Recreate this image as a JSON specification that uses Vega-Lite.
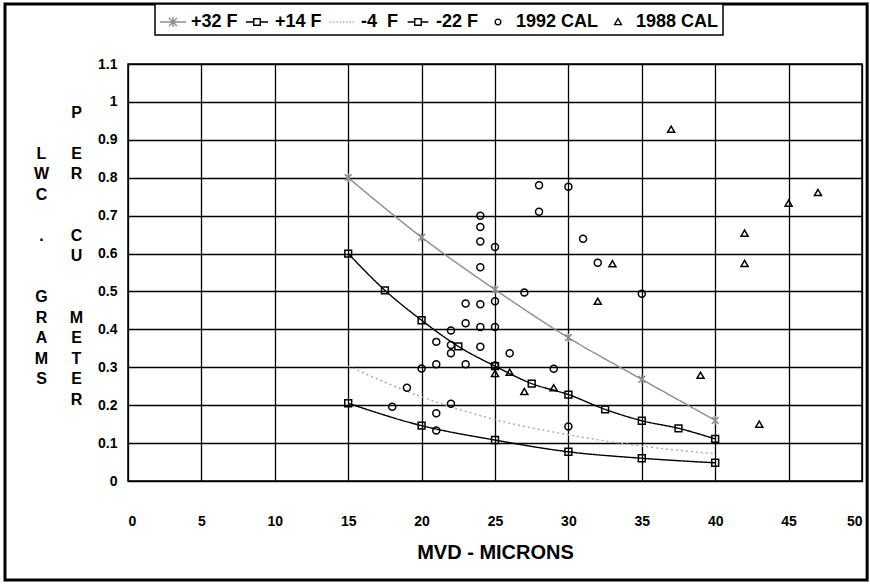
{
  "$schema": "https://vega.github.io/schema/vega-lite/v6.json",
  "width": 734,
  "height": 417,
  "autosize": "none",
  "padding": {"left": 128, "top": 64, "right": 8, "bottom": 103},
  "background": "white",
  "datasets": {
    "lwc": [
      {"series": "+32 F", "mvd": 15, "lwc": 0.80},
      {"series": "+32 F", "mvd": 20, "lwc": 0.643},
      {"series": "+32 F", "mvd": 25, "lwc": 0.505},
      {"series": "+32 F", "mvd": 30, "lwc": 0.378},
      {"series": "+32 F", "mvd": 35, "lwc": 0.268},
      {"series": "+32 F", "mvd": 40, "lwc": 0.16},
      {"series": "+14 F", "mvd": 15, "lwc": 0.60},
      {"series": "+14 F", "mvd": 17.5, "lwc": 0.503},
      {"series": "+14 F", "mvd": 20, "lwc": 0.424},
      {"series": "+14 F", "mvd": 22.5, "lwc": 0.355},
      {"series": "+14 F", "mvd": 25, "lwc": 0.303},
      {"series": "+14 F", "mvd": 27.5, "lwc": 0.257},
      {"series": "+14 F", "mvd": 30, "lwc": 0.228},
      {"series": "+14 F", "mvd": 32.5, "lwc": 0.189},
      {"series": "+14 F", "mvd": 35, "lwc": 0.159},
      {"series": "+14 F", "mvd": 37.5, "lwc": 0.139},
      {"series": "+14 F", "mvd": 40, "lwc": 0.111},
      {"series": "-4\u00a0 F", "mvd": 15, "lwc": 0.303},
      {"series": "-4\u00a0 F", "mvd": 20, "lwc": 0.222},
      {"series": "-4\u00a0 F", "mvd": 25, "lwc": 0.162},
      {"series": "-4\u00a0 F", "mvd": 30, "lwc": 0.122},
      {"series": "-4\u00a0 F", "mvd": 35, "lwc": 0.092},
      {"series": "-4\u00a0 F", "mvd": 40, "lwc": 0.072},
      {"series": "-22 F", "mvd": 15, "lwc": 0.205},
      {"series": "-22 F", "mvd": 20, "lwc": 0.146},
      {"series": "-22 F", "mvd": 25, "lwc": 0.108},
      {"series": "-22 F", "mvd": 30, "lwc": 0.077},
      {"series": "-22 F", "mvd": 35, "lwc": 0.06},
      {"series": "-22 F", "mvd": 40, "lwc": 0.048},
      {"series": "1992 CAL", "mvd": 28, "lwc": 0.78},
      {"series": "1992 CAL", "mvd": 30, "lwc": 0.776},
      {"series": "1992 CAL", "mvd": 24, "lwc": 0.70},
      {"series": "1992 CAL", "mvd": 28, "lwc": 0.71},
      {"series": "1992 CAL", "mvd": 24, "lwc": 0.67},
      {"series": "1992 CAL", "mvd": 24, "lwc": 0.632},
      {"series": "1992 CAL", "mvd": 25, "lwc": 0.617},
      {"series": "1992 CAL", "mvd": 31, "lwc": 0.639},
      {"series": "1992 CAL", "mvd": 24, "lwc": 0.564},
      {"series": "1992 CAL", "mvd": 32, "lwc": 0.576},
      {"series": "1992 CAL", "mvd": 27, "lwc": 0.497},
      {"series": "1992 CAL", "mvd": 35, "lwc": 0.494},
      {"series": "1992 CAL", "mvd": 23, "lwc": 0.468},
      {"series": "1992 CAL", "mvd": 24, "lwc": 0.466},
      {"series": "1992 CAL", "mvd": 25, "lwc": 0.474},
      {"series": "1992 CAL", "mvd": 23, "lwc": 0.416},
      {"series": "1992 CAL", "mvd": 24, "lwc": 0.406},
      {"series": "1992 CAL", "mvd": 25, "lwc": 0.406},
      {"series": "1992 CAL", "mvd": 22, "lwc": 0.397},
      {"series": "1992 CAL", "mvd": 21, "lwc": 0.367},
      {"series": "1992 CAL", "mvd": 22, "lwc": 0.359},
      {"series": "1992 CAL", "mvd": 22, "lwc": 0.337},
      {"series": "1992 CAL", "mvd": 24, "lwc": 0.354},
      {"series": "1992 CAL", "mvd": 26, "lwc": 0.337},
      {"series": "1992 CAL", "mvd": 20, "lwc": 0.297},
      {"series": "1992 CAL", "mvd": 21, "lwc": 0.308},
      {"series": "1992 CAL", "mvd": 23, "lwc": 0.308},
      {"series": "1992 CAL", "mvd": 25, "lwc": 0.305},
      {"series": "1992 CAL", "mvd": 29, "lwc": 0.296},
      {"series": "1992 CAL", "mvd": 19, "lwc": 0.246},
      {"series": "1992 CAL", "mvd": 18, "lwc": 0.196},
      {"series": "1992 CAL", "mvd": 22, "lwc": 0.204},
      {"series": "1992 CAL", "mvd": 21, "lwc": 0.179},
      {"series": "1992 CAL", "mvd": 21, "lwc": 0.133},
      {"series": "1992 CAL", "mvd": 30, "lwc": 0.144},
      {"series": "1988 CAL", "mvd": 37, "lwc": 0.928},
      {"series": "1988 CAL", "mvd": 47, "lwc": 0.761},
      {"series": "1988 CAL", "mvd": 45, "lwc": 0.733},
      {"series": "1988 CAL", "mvd": 42, "lwc": 0.654},
      {"series": "1988 CAL", "mvd": 33, "lwc": 0.573},
      {"series": "1988 CAL", "mvd": 42, "lwc": 0.574},
      {"series": "1988 CAL", "mvd": 32, "lwc": 0.474},
      {"series": "1988 CAL", "mvd": 26, "lwc": 0.287},
      {"series": "1988 CAL", "mvd": 25, "lwc": 0.284},
      {"series": "1988 CAL", "mvd": 27, "lwc": 0.236},
      {"series": "1988 CAL", "mvd": 29, "lwc": 0.246},
      {"series": "1988 CAL", "mvd": 39, "lwc": 0.279},
      {"series": "1988 CAL", "mvd": 43, "lwc": 0.15}
    ]
  },
  "data": {"name": "lwc"},
  "config": {
    "font": "Liberation Sans",
    "view": {"stroke": "black", "strokeWidth": 1.5},
    "axis": {
      "gridColor": "black",
      "gridOpacity": 1,
      "gridWidth": 1.3,
      "ticks": false,
      "domain": false,
      "labelFont": "Liberation Sans Narrow, Liberation Sans",
      "labelFontWeight": "bold",
      "labelFontSize": 14,
      "labelColor": "black",
      "titleColor": "black",
      "titleFont": "Liberation Sans",
      "titleFontWeight": "bold"
    },
    "legend": {
      "orient": "none",
      "legendX": 27,
      "legendY": -60,
      "direction": "horizontal",
      "columns": 6,
      "symbolSize": 676,
      "symbolStrokeWidth": 1.4,
      "labelFont": "Liberation Sans",
      "labelFontWeight": "bold",
      "labelFontSize": 18,
      "labelColor": "black",
      "labelOffset": 4,
      "columnPadding": 5,
      "padding": 4,
      "strokeColor": "black",
      "strokeWidth": 1.5,
      "fillColor": "white"
    }
  },
  "layer": [
    {
      "transform": [{"filter": "indexof(['+32 F', '+14 F', '-4\u00a0 F', '-22 F'], datum.series) >= 0"}],
      "mark": {"type": "line", "interpolate": "monotone", "strokeWidth": 1.4},
      "encoding": {
        "x": {
          "field": "mvd", "type": "quantitative",
          "scale": {"domain": [0, 50], "nice": false},
          "axis": {
            "grid": true,
            "values": [0, 5, 10, 15, 20, 25, 30, 35, 40, 45, 50],
            "labelPadding": 33,
            "title": "MVD - MICRONS",
            "titleFontSize": 20,
            "titleBaseline": "middle",
            "titleY": 71
          }
        },
        "y": {
          "field": "lwc", "type": "quantitative",
          "scale": {"domain": [0, 1.1], "nice": false, "zero": false},
          "axis": {
            "grid": true,
            "values": [0, 0.1, 0.2, 0.3, 0.4, 0.5, 0.6, 0.7, 0.8, 0.9, 1, 1.1],
            "format": "~g",
            "labelPadding": 11,
            "title": ["L", "W", "C", "\u2800", ".", "\u2800", "\u2800", "G", "R", "A", "M", "S"],
            "titleAngle": 0,
            "titleAlign": "center",
            "titleBaseline": "top",
            "titleX": -87,
            "titleY": 81,
            "titleFontSize": 16,
            "titleLineHeight": 20.5
          }
        },
        "color": {
          "field": "series", "type": "nominal", "legend": null,
          "scale": {"domain": ["+32 F", "+14 F", "-4\u00a0 F", "-22 F"], "range": ["#8c8c8c", "black", "#a8a8a8", "black"]}
        },
        "strokeDash": {
          "field": "series", "type": "nominal", "legend": null,
          "scale": {"domain": ["+32 F", "+14 F", "-4\u00a0 F", "-22 F"], "range": [[1, 0], [1, 0], [2, 3], [1, 0]]}
        }
      }
    },
    {
      "transform": [{"filter": "datum.series !== '-4\u00a0 F'"}],
      "mark": {"type": "point", "filled": false, "strokeWidth": 1.5, "opacity": 1},
      "encoding": {
        "x": {"field": "mvd", "type": "quantitative"},
        "y": {"field": "lwc", "type": "quantitative", "axis": null},
        "color": {
          "field": "series", "type": "nominal", "legend": null,
          "scale": {"domain": ["+32 F", "+14 F", "-22 F", "1992 CAL", "1988 CAL"], "range": ["#8c8c8c", "black", "black", "black", "black"]}
        },
        "shape": {
          "field": "series", "type": "nominal", "legend": null,
          "scale": {
            "domain": ["+32 F", "+14 F", "-22 F", "1992 CAL", "1988 CAL"],
            "range": ["M-1,-1L1,1M-1,1L1,-1M0,-1.3V1.3", "square", "square", "circle", "triangle-up"]
          }
        },
        "size": {
          "field": "series", "type": "nominal", "legend": null,
          "scale": {"domain": ["+32 F", "+14 F", "-22 F", "1992 CAL", "1988 CAL"], "range": [45, 50, 50, 52, 55]}
        }
      }
    },
    {
      "mark": {"type": "point", "filled": false, "opacity": 0},
      "encoding": {
        "x": {"field": "mvd", "type": "quantitative"},
        "y": {
          "field": "lwc", "type": "quantitative",
          "axis": {
            "orient": "left",
            "grid": false,
            "labels": false,
            "title": ["P", "\u2800", "E", "R", "\u2800", "\u2800", "C", "U", "\u2800", "\u2800", "M", "E", "T", "E", "R"],
            "titleAngle": 0,
            "titleAlign": "center",
            "titleBaseline": "top",
            "titleX": -52,
            "titleY": 40,
            "titleFontSize": 16,
            "titleLineHeight": 20.5
          }
        },
        "color": {
          "field": "series", "type": "nominal",
          "scale": {
            "domain": ["+32 F", "+14 F", "-4\u00a0 F", "-22 F", "1992 CAL", "1988 CAL"],
            "range": ["#8c8c8c", "black", "#a8a8a8", "black", "black", "black"]
          },
          "legend": {"title": null}
        },
        "shape": {
          "field": "series", "type": "nominal",
          "scale": {
            "domain": ["+32 F", "+14 F", "-4\u00a0 F", "-22 F", "1992 CAL", "1988 CAL"],
            "range": [
              "M-1,0H1M-0.3,-0.3L0.3,0.3M-0.3,0.3L0.3,-0.3M0,-0.38V0.38",
              "M-0.85,0H-0.25M0.25,0H0.85M-0.25,-0.25H0.25V0.25H-0.25Z",
              "M-1,0H-0.9M-0.75,0H-0.65M-0.5,0H-0.4M-0.25,0H-0.15M0,0H0.1M0.25,0H0.35M0.5,0H0.6M0.75,0H0.85",
              "M-0.8,0H-0.25M0.25,0H0.8M-0.25,-0.25H0.25V0.25H-0.25Z",
              "M-0.22,0A0.22,0.22,0,1,0,0.22,0A0.22,0.22,0,1,0,-0.22,0Z",
              "M0,-0.26L0.26,0.2L-0.26,0.2Z"
            ]
          },
          "legend": {"title": null}
        }
      }
    },
    {
      "data": {"values": [{}]},
      "mark": {"type": "rect", "fill": "transparent", "stroke": "black", "strokeWidth": 3},
      "encoding": {
        "x": {"datum": -8.38, "type": "quantitative"},
        "x2": {"datum": 50.35},
        "y": {"datum": 1.258, "type": "quantitative", "axis": null},
        "y2": {"datum": -0.261}
      }
    }
  ],
  "resolve": {
    "scale": {"color": "independent", "shape": "independent", "strokeDash": "independent", "size": "independent"},
    "axis": {"y": "independent"}
  }
}
